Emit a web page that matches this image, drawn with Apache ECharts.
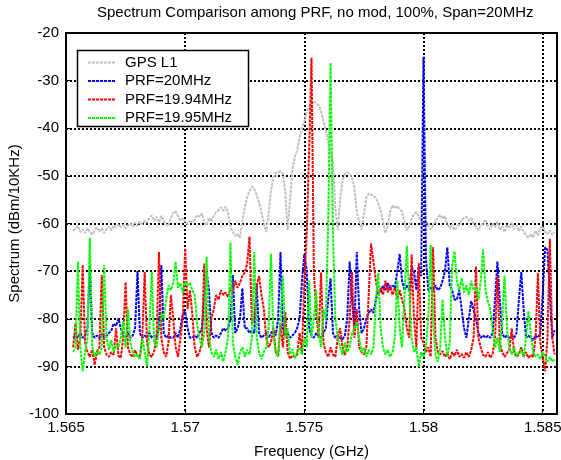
<!DOCTYPE html>
<html>
<head>
<meta charset="utf-8">
<script src="https://cdn.jsdelivr.net/npm/echarts@6/dist/echarts.min.js"></script>
<style>
  html, body { margin: 0; padding: 0; background: #fff; }
  #chart { width: 561px; height: 460px; }
</style>
</head>
<body>
<div id="chart"></div>
<script>
// sampling grid of the spectrum (GHz)
const freqStart = 1.5653;
const freqStep = 0.0001;

const xTicks = [1.565, 1.57, 1.575, 1.58, 1.585];
const xTickLabels = ['1.565', '1.57', '1.575', '1.58', '1.585'];

const seriesNames = ['GPS L1', 'PRF=20MHz', 'PRF=19.94MHz', 'PRF=19.95MHz'];

const gpsL1 = [
  -61.5, -61, -60.5, -61.8, -61.2, -62, -61, -61.8, -62.3, -61.5,
  -60.8, -61.7, -61, -62, -61.2, -60.6, -61.4, -60.5, -60.9, -60.2,
  -60.8, -60.3, -61, -60.4, -60, -60.7, -59.8, -60.5, -59.6, -60.2,
  -59.4, -59.8, -58.8, -58.3, -59.5, -58.6, -59.8, -58.4, -59.6, -60.2,
  -60.5, -58.8, -57.8, -57.4, -58.5, -59.4, -58.9, -59.6, -60.2, -59.3,
  -59.8, -59.2, -58.2, -58.6, -57.9, -59.6, -60.4, -58.8, -59.6, -58.4,
  -57.6, -57.2, -56.6, -57.3, -56.5, -57.8, -60.8, -61.8, -62.6, -62.2,
  -63, -59.5, -56.5, -54.5, -53.2, -52.3, -52.8, -54, -55.5, -57.6,
  -60, -61.8, -58, -53, -50.5, -49.4, -49.2, -49, -49.6, -53.5,
  -61.4, -55, -48.5, -46, -44.5, -42, -40, -38.5, -36.5, -35.5,
  -35, -34.3, -34.8, -35.2, -36.4, -38.5, -40.5, -43, -45, -47,
  -57, -61.4, -55, -51, -49.6, -49.3, -49.5, -50.5, -52.5, -57.5,
  -59.5, -61.3, -58, -54.5, -53.7, -53.9, -54.2, -54.6, -55.8, -57.2,
  -59.5, -62, -60.5, -57.5, -56.2, -56.8, -56.3, -57, -57.5, -59.8,
  -61.4, -60.5, -59, -58, -57.6, -58.5, -59.5, -60.2, -59.6, -60.4,
  -61.2, -60.3, -59.5, -58.8, -58.2, -59, -58.4, -60.2, -61, -60.2,
  -61.4, -60.8, -60, -59.4, -58.8, -58.6, -59.3, -58.9, -60, -60.6,
  -61.4, -60.4, -60, -59.2, -60.5, -61.2, -60, -60.8, -59.6, -61.4,
  -60.5, -61.8, -60.2, -61, -59.8, -61.2, -60.4, -61.6, -60.6, -61.8,
  -62.4, -63, -62.2, -63, -61.5, -62.5, -61, -60.6, -61.8, -62.2,
  -61.4, -62.4, -61.8
];

const prf20 = [
  -84, -83.5, -84, -83, -84, -83.5, -82, -69, -83, -84,
  -83.5, -84, -83.2, -84, -83.6, -83, -82.5, -81, -81.5, -80,
  -82, -83.5, -84, -83, -84, -83.5, -82, -70, -83, -84,
  -83.5, -84, -83, -84, -83.6, -84, -82, -68.7, -83, -84,
  -83.5, -84, -84, -83, -84, -82, -79, -78.5, -82, -84,
  -84, -83.5, -84, -83, -82, -76, -70, -74, -83, -84,
  -83.5, -84, -83, -82, -82.5, -82, -80, -70.8, -83, -82,
  -80, -73.6, -82, -82, -83, -82.5, -83, -73, -83, -84,
  -83.5, -83, -84, -83, -82.5, -83.5, -80, -66, -82, -83.5,
  -83, -84, -83.5, -83, -82, -80, -72, -66.4, -70, -82,
  -83.5, -84, -83, -83.6, -84, -83, -82, -76, -71.5, -83,
  -84, -83.5, -84, -84.3, -83.5, -80, -68, -76, -82, -66,
  -78, -83, -82, -80, -78.8, -78, -78.8, -76, -74, -74.5,
  -73, -74, -72.5, -74, -73, -73.5, -70, -66.4, -72, -74,
  -73, -74, -69.3, -70, -74, -69, -71, -25, -67.3, -74,
  -73.5, -74, -73, -74, -73.5, -72, -70, -65, -73, -74,
  -76, -76, -74, -78, -82, -84, -80, -76.3, -78, -80,
  -83, -84, -83.5, -84, -83.6, -84, -83, -76, -68, -76,
  -83, -84, -83.5, -84, -83.6, -84, -83, -76, -70.2, -78,
  -84, -83.5, -84, -84.5, -83.5, -84, -83, -75, -65, -65.5,
  -75, -84, -82.4
];

const prf1994 = [
  -86, -81, -86.5, -84, -68.7, -85, -87, -88, -86.5, -89.7,
  -87, -86, -70.8, -86, -87.5, -88, -87, -87.6, -82, -87.8,
  -88.2, -84, -72.3, -86, -87.5, -88, -86.6, -87.8, -88, -84,
  -70.2, -85, -87.6, -88, -86.8, -84, -66, -84, -87, -88,
  -85, -75, -80, -86, -88, -84, -80, -65.2, -78, -74,
  -79, -86, -88, -87, -85, -68.4, -82, -86, -80, -78,
  -75, -76, -74, -75, -74.5, -75.5, -73.5, -74, -72, -73.5,
  -72.5, -71, -70.3, -68.5, -62.8, -81, -80, -73, -71, -75,
  -78, -84, -86, -85, -82, -87, -88, -81, -86, -78.6,
  -87, -88.4, -87.7, -88, -87.5, -83, -87, -72, -62, -45,
  -25.2, -70, -79, -84, -70.3, -85, -87, -88, -86, -87.5,
  -88, -84, -82, -86, -87.6, -86, -80, -70.2, -84, -78,
  -86, -87, -87.5, -86, -75, -64.2, -68, -72, -75, -73.5,
  -75, -72, -74.5, -73, -75, -73.5, -76, -74, -76, -78,
  -82, -84, -66.5, -80, -86, -68.3, -84, -85, -87, -86,
  -88, -65, -84, -87, -87.5, -86.8, -88, -87.2, -88.5, -87,
  -87.8, -86.5, -88, -87.4, -88.2, -87, -88, -86.6, -84, -69,
  -84, -86, -87.6, -88, -87, -88.2, -87.4, -84, -71, -85,
  -87, -88, -87.2, -86.5, -82, -87, -88, -87.5, -86, -88,
  -87, -88.2, -87.6, -88, -84, -70.4, -85, -88, -91, -84,
  -63.2, -84, -87.5
];

const prf1995 = [
  -87, -86, -68, -86, -91, -87, -84, -63, -86, -88,
  -86.5, -87.6, -86, -68.7, -84, -86.5, -84.5, -87, -85.5, -86,
  -84, -80.5, -86, -78, -85, -87, -88, -87.5, -88.5, -84,
  -87, -90, -82, -70.2, -85, -86, -82, -79, -80, -76,
  -73, -74, -72.6, -68, -73.5, -72.5, -74.5, -72.2, -73, -72.5,
  -74, -75, -81, -84, -86, -83, -67, -84, -87, -88,
  -86.5, -88.4, -87, -89, -86.8, -84, -64, -85, -88, -89.7,
  -87, -86, -88, -86.5, -87.5, -84, -66, -84, -87, -88.5,
  -87, -86, -82, -66.3, -83, -87, -88, -80, -71, -84,
  -82, -87.5, -86.4, -88.4, -87, -86, -87.6, -84, -86, -72,
  -84, -80, -74, -83, -86, -78, -80, -60, -26.3, -62,
  -80, -84, -86, -87.6, -85, -87, -86, -83, -82, -80.6,
  -84, -87, -86, -88, -86.5, -87.5, -86, -76, -70.4, -82,
  -86, -87.5, -86.5, -88, -87, -84, -72, -82, -86, -75,
  -64.7, -75, -84, -87, -86, -90.1, -87, -88, -86, -80,
  -64.5, -80, -87.6, -89, -86, -76, -84, -88, -85, -69,
  -65.8, -72, -74, -71.5, -74.5, -73, -75, -72, -74, -73.5,
  -76, -72, -65.4, -74, -76.4, -78, -82, -86, -84, -87,
  -80, -71, -82, -86, -87.5, -86, -88, -87, -86.5, -88,
  -84, -78.4, -83, -87, -88, -87.5, -88.5, -87, -88, -89,
  -88, -89, -88.5
];

const seriesValues = [gpsL1, prf20, prf1994, prf1995];
const seriesColors = ['#c0c0c0', '#0000ff', '#ff0000', '#00ff00'];

const fontFamily = 'Liberation Sans, Arial, sans-serif';

function toPoints(values) {
  return values.map((v, i) => [freqStart + i * freqStep, v]);
}

function xLabel(value) {
  for (let k = 0; k < xTicks.length; k++) {
    if (Math.abs(value - xTicks[k]) < 1e-7) return xTickLabels[k];
  }
  return '';
}

function initChart() {
  let myChart = echarts.init(document.getElementById('chart'), null, { renderer: 'canvas' });
  let option = {
    animation: false,
    backgroundColor: '#fff',
    title: {
      text: 'Spectrum Comparison among PRF, no mod, 100%, Span=20MHz',
      left: 92,
      top: 0,
      textStyle: { fontFamily: fontFamily, fontSize: 15, fontWeight: 'normal', color: '#000' }
    },
    // legend frame, drawn separately so it keeps the reference size
    graphic: [{
      type: 'rect',
      z: 3,
      shape: { x: 77.5, y: 50.5, width: 171, height: 76 },
      style: { fill: '#fff', stroke: '#000', lineWidth: 1.5 }
    }],
    legend: {
      orient: 'vertical',
      left: 77,
      top: 50,
      z: 4,
      padding: [5, 0, 0, 10],
      itemWidth: 28,
      itemHeight: 14,
      itemGap: 3.5,
      itemStyle: { opacity: 0 },
      data: seriesNames,
      textStyle: { fontFamily: fontFamily, fontSize: 15, color: '#000', padding: [0, 0, 0, 4] }
    },
    grid: {
      left: 66,
      right: 4,
      top: 33,
      bottom: 46,
      outerBoundsMode: 'none',
      show: true,
      borderColor: '#000',
      borderWidth: 2
    },
    xAxis: {
      type: 'value',
      min: 1.565,
      max: 1.5856,
      interval: 0.005,
      name: 'Frequency (GHz)',
      nameLocation: 'middle',
      nameGap: 30,
      nameTextStyle: { fontFamily: fontFamily, fontSize: 15, color: '#000' },
      axisLine: { show: true, onZero: false, lineStyle: { color: '#000', width: 2 } },
      axisTick: { show: true, inside: true, length: 4, lineStyle: { color: '#000' } },
      axisLabel: { formatter: xLabel, margin: 6, fontFamily: fontFamily, fontSize: 15, color: '#000', showMaxLabel: false },
      splitLine: { show: true, lineStyle: { color: '#000', type: [2, 2], width: 2 } }
    },
    yAxis: {
      type: 'value',
      min: -100,
      max: -20,
      interval: 10,
      name: 'Spectrum (dBm/10KHz)',
      nameLocation: 'middle',
      nameGap: 44,
      nameMoveOverlap: false,
      nameTextStyle: { fontFamily: fontFamily, fontSize: 15, color: '#000' },
      axisLine: { show: true, lineStyle: { color: '#000', width: 2 } },
      axisTick: { show: true, inside: true, length: 4, lineStyle: { color: '#000' } },
      axisLabel: { margin: 7, fontFamily: fontFamily, fontSize: 15, color: '#000' },
      splitLine: { show: true, lineStyle: { color: '#000', type: [2, 2], width: 2 } }
    },
    series: seriesNames.map((name, k) => ({
      name: name,
      type: 'line',
      data: toPoints(seriesValues[k]),
      showSymbol: false,
      symbol: 'none',
      color: seriesColors[k],
      lineStyle: { color: seriesColors[k], width: 2, type: [3, 1] }
    }))
  };
  myChart.setOption(option);
}

initChart();
</script>
</body>
</html>
